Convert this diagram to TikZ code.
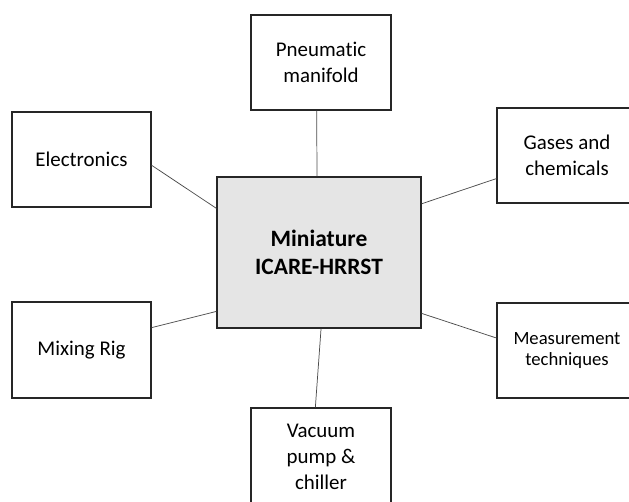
\documentclass[tikz,border=0pt]{standalone}
\usepackage{fontspec}
\setmainfont{Carlito}[Ligatures={NoCommon}]
\usetikzlibrary{calc}
\begin{document}
\begin{tikzpicture}[x=0.75pt,y=-0.75pt,
  box/.style={draw=black!85,line width=0.9pt,fill=white,rectangle,inner sep=0pt,align=center,
    font=\fontsize{15.7pt}{19.6pt}\selectfont},
  link/.style={draw=black!70,line width=0.55pt}]
\useasboundingbox (0,0) rectangle (629,502);
\node[box,minimum width=204*0.75pt,minimum height=151*0.75pt,fill=black!10,
  font=\fontsize{17.6pt}{21pt}\selectfont\bfseries] (ctr) at (319,252.5) {Miniature\\ICARE-HRRST};
\node[box,minimum width=140*0.75pt,minimum height=95*0.75pt] (pneu) at (321,62.5) {Pneumatic\\manifold};
\node[box,minimum width=139*0.75pt,minimum height=95*0.75pt] (elec) at (81.5,159.5) {Electronics};
\node[box,minimum width=139*0.75pt,minimum height=96*0.75pt] (mix) at (81.5,350) {Mixing Rig};
\node[box,minimum width=140*0.75pt,minimum height=95*0.75pt] (gas) at (567,155.5) {Gases and\\chemicals};
\node[box,minimum width=140*0.75pt,minimum height=95*0.75pt,
  font=\fontsize{14pt}{15.9pt}\selectfont] (meas) at (567,350.5) {Measurement\\techniques};
\node[box,minimum width=140*0.75pt,minimum height=98*0.75pt] (vac) at (321,457) {Vacuum\\pump \&\\chiller};
\draw[link] ($(pneu.south west)!0.47!(pneu.south east)$) -- ($(ctr.north west)!0.49!(ctr.north east)$);
\draw[link] ($(vac.north west)!0.46!(vac.north east)$) -- ($(ctr.south west)!0.51!(ctr.south east)$);
\draw[link] ($(elec.north east)!0.56!(elec.south east)$) -- ($(ctr.north west)!0.21!(ctr.south west)$);
\draw[link] ($(mix.north east)!0.27!(mix.south east)$) -- ($(ctr.north west)!0.887!(ctr.south west)$);
\draw[link] ($(gas.north west)!0.74!(gas.south west)$) -- ($(ctr.north east)!0.18!(ctr.south east)$);
\draw[link] ($(meas.north west)!0.37!(meas.south west)$) -- ($(ctr.north east)!0.90!(ctr.south east)$);
\end{tikzpicture}
\end{document}
